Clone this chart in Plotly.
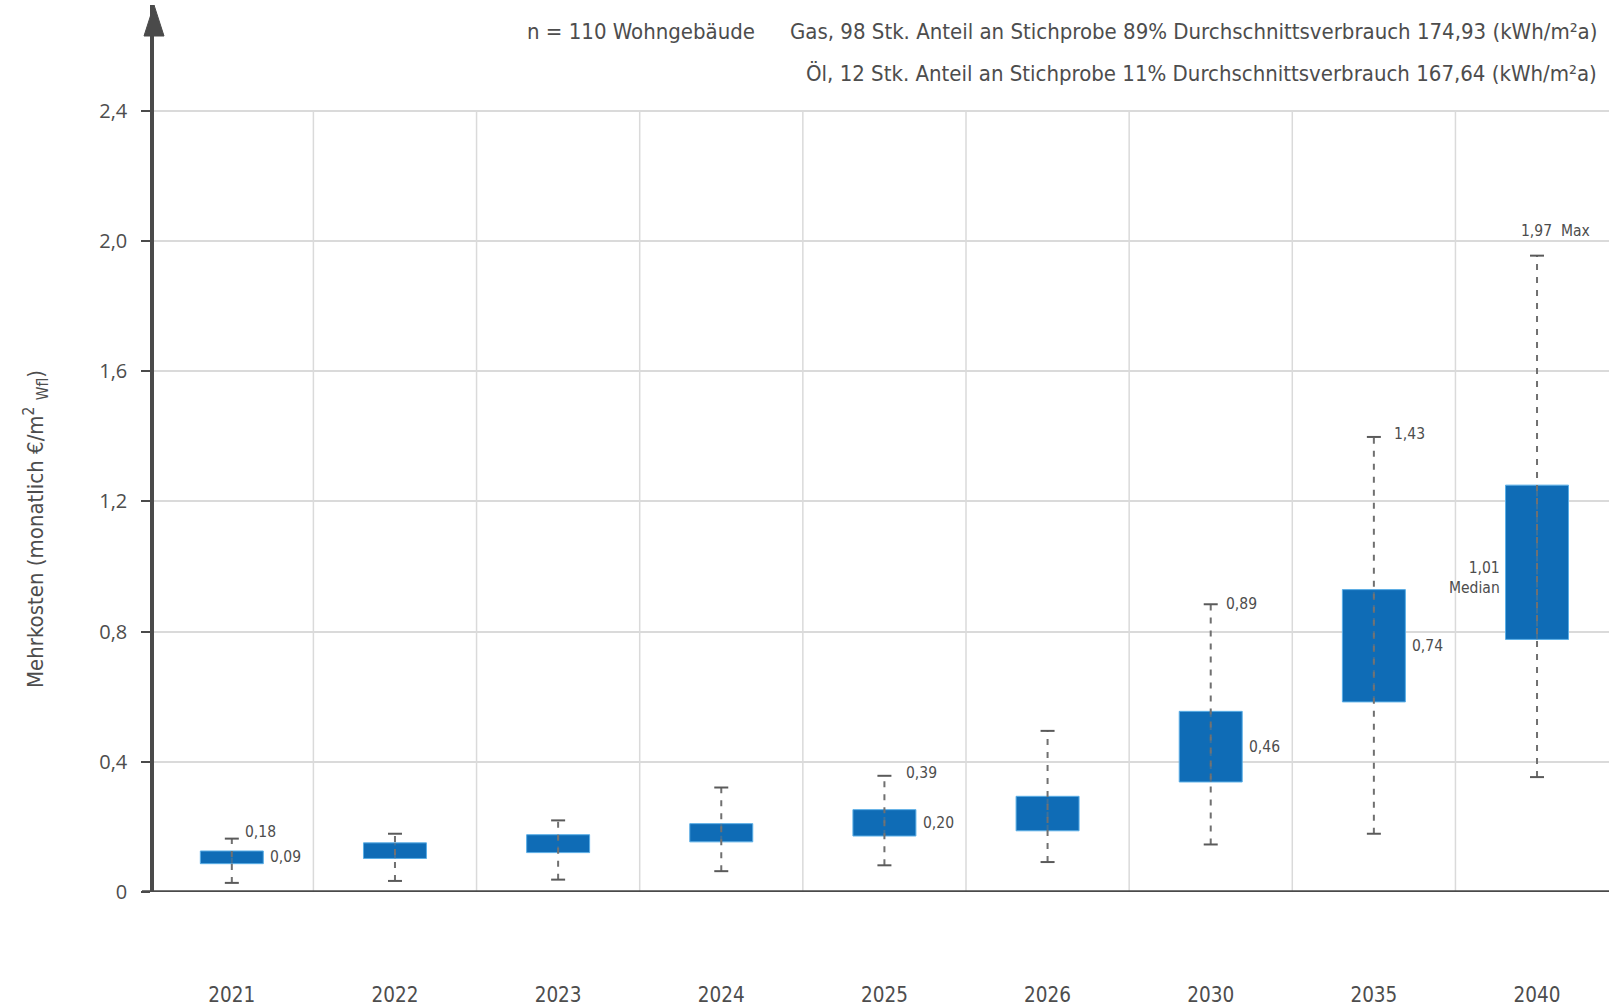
import plotly.graph_objects as go

# ---------------- data ----------------
years = ["2021", "2022", "2023", "2024", "2025", "2026", "2030", "2035", "2040"]
q1 = [0.087, 0.103, 0.121, 0.154, 0.172, 0.188, 0.338, 0.584, 0.776]
q3 = [0.126, 0.151, 0.176, 0.210, 0.253, 0.294, 0.555, 0.929, 1.250]
median = [0.09, 0.13, 0.15, 0.18, 0.20, 0.24, 0.46, 0.74, 1.01]
wmin = [0.028, 0.034, 0.038, 0.064, 0.082, 0.092, 0.146, 0.179, 0.353]
wmax = [0.164, 0.179, 0.220, 0.321, 0.357, 0.495, 0.884, 1.398, 1.955]

y_ticks = [0, 0.4, 0.8, 1.2, 1.6, 2.0, 2.4]
y_tick_text = ["0", "0,4", "0,8", "1,2", "1,6", "2,0", "2,4"]

max_label_text = ["0,18", "", "", "", "0,39", "", "0,89", "1,43", "1,97  Max"]
median_label_text = ["0,09", "", "", "", "0,20", "", "0,46", "0,74", "1,01<br>Median"]

header_left = "n = 110 Wohngebäude"
header_gas = "Gas, 98 Stk. Anteil an Stichprobe 89% Durchschnittsverbrauch 174,93 (kWh/m²a)"
header_oel = "Öl, 12 Stk. Anteil an Stichprobe 11% Durchschnittsverbrauch 167,64 (kWh/m²a)"
y_title = "Mehrkosten (monatlich €/m<sup>2</sup> <sub>Wfl</sub>)"

# ---------------- layout geometry ----------------
W, H = 1609, 1007
ML, MR, MT, MB = 154, 0, 5, 115
PW, PH = W - ML - MR, H - MT - MB
X_RANGE = [-0.477, -0.477 + PW / 163.15]
Y_RANGE = [0, PH / 325.5]

NARROW = "DejaVu Sans Condensed, DejaVu Sans, sans-serif"
AXIS_COL = "#4a4a4a"
TEXT_COL = "#4d4d4d"
GRID_COL = "#dadada"
BOX_COL = "#0f6cb6"
BOX_W = 0.386
LBL = 15.5


def px_x(px):
    return (px - ML) / PW


def px_y(py):
    return (H - MB - py) / PH


xs = list(range(len(years)))

fig = go.Figure()

# whiskers (dashed), drawn below boxes
wx, wy = [], []
for i in xs:
    wx += [i, i, None]
    wy += [wmin[i], wmax[i], None]
fig.add_trace(go.Scatter(x=wx, y=wy, mode="lines",
                         line=dict(color="#707070", width=2, dash="6px,7px"),
                         hoverinfo="skip", showlegend=False))

# boxes
fig.add_trace(go.Bar(x=xs, y=[q3[i] - q1[i] for i in xs], base=q1, width=BOX_W,
                     marker=dict(color=BOX_COL, line=dict(color="#5aaee6", width=1)),
                     showlegend=False, hoverinfo="skip"))

# faint whisker through the box
ix, iy = [], []
for i in xs:
    ix += [i, i, None]
    iy += [q1[i], q3[i], None]
fig.add_trace(go.Scatter(x=ix, y=iy, mode="lines",
                         line=dict(color="rgba(120,120,120,0.45)", width=2, dash="6px,7px"),
                         hoverinfo="skip", showlegend=False))

# caps
fig.add_trace(go.Scatter(x=xs + xs, y=wmax + wmin, mode="markers",
                         marker=dict(symbol="line-ew", size=10,
                                     line=dict(color="#5a5a5a", width=2)),
                         hoverinfo="skip", showlegend=False))

annotations = []
# max labels
max_shift = {0: (11, 7), 4: (20, 3), 6: (13, 0), 7: (18, 3)}
for i in xs:
    t = max_label_text[i]
    if not t:
        continue
    if i == 8:
        annotations.append(dict(x=i, y=wmax[i], text=t, showarrow=False, xanchor="center",
                                yanchor="middle", xshift=18, yshift=25,
                                font=dict(family=NARROW, size=LBL, color=TEXT_COL)))
    else:
        dx, dy = max_shift[i]
        annotations.append(dict(x=i, y=wmax[i], text=t, showarrow=False, xanchor="left",
                                yanchor="middle", xshift=dx, yshift=dy,
                                font=dict(family=NARROW, size=LBL, color=TEXT_COL)))
# median labels
for i in xs:
    t = median_label_text[i]
    if not t:
        continue
    if i == 8:
        annotations.append(dict(x=i - BOX_W / 2, y=median[i], text=t, showarrow=False,
                                xanchor="right", yanchor="middle", xshift=-4, yshift=-15,
                                align="right",
                                font=dict(family=NARROW, size=LBL, color=TEXT_COL)))
    else:
        annotations.append(dict(x=i + BOX_W / 2, y=(q1[i] + q3[i]) / 2, text=t, showarrow=False,
                                xanchor="left", yanchor="middle", xshift=5,
                                font=dict(family=NARROW, size=LBL, color=TEXT_COL)))

# header
annotations.append(dict(xref="paper", yref="paper", x=px_x(525), y=px_y(32), text=header_left,
                        showarrow=False, xanchor="left", yanchor="middle",
                        font=dict(family=NARROW, size=22, color=TEXT_COL)))
annotations.append(dict(xref="paper", yref="paper", x=px_x(1599), y=px_y(32), text=header_gas,
                        showarrow=False, xanchor="right", yanchor="middle",
                        font=dict(family=NARROW, size=22, color=TEXT_COL)))
annotations.append(dict(xref="paper", yref="paper", x=px_x(1599), y=px_y(73), text=header_oel,
                        showarrow=False, xanchor="right", yanchor="middle",
                        font=dict(family=NARROW, size=22, color=TEXT_COL)))
# y title
annotations.append(dict(xref="paper", yref="paper", x=px_x(36), y=px_y(529), text=y_title,
                        showarrow=False, textangle=-90, xanchor="center", yanchor="middle",
                        font=dict(family=NARROW, size=22, color=TEXT_COL)))

shapes = []
# vertical grid lines between categories
for i in xs[:-1]:
    shapes.append(dict(type="line", xref="x", yref="y", x0=i + 0.5, x1=i + 0.5,
                       y0=0, y1=y_ticks[-1], line=dict(color=GRID_COL, width=1.5), layer="below"))
# x axis line
shapes.append(dict(type="line", xref="paper", yref="y", x0=px_x(142), x1=1, y0=0, y1=0,
                   line=dict(color=AXIS_COL, width=3.5)))
# arrow head on y axis
ty0, ty1 = px_y(5), px_y(36)
shapes.append(dict(type="path", xref="paper", yref="paper",
                   path=f"M {px_x(154)},{ty0} L {px_x(144)},{ty1} L {px_x(164)},{ty1} Z",
                   fillcolor=AXIS_COL, line=dict(color=AXIS_COL, width=1)))

fig.update_layout(
    width=W, height=H, autosize=False,
    margin=dict(l=ML, r=MR, t=MT, b=MB, pad=0, autoexpand=False),
    paper_bgcolor="white", plot_bgcolor="white",
    showlegend=False, barmode="overlay",
    annotations=annotations, shapes=shapes,
    xaxis=dict(range=X_RANGE, tickvals=xs, ticktext=years, showgrid=False, zeroline=False,
               showline=False, ticks="", ticklabelstandoff=88, automargin=False,
               tickfont=dict(family=NARROW, size=20.5, color=TEXT_COL), fixedrange=True),
    yaxis=dict(range=Y_RANGE, tickvals=y_ticks, ticktext=y_tick_text, showgrid=True,
               gridcolor=GRID_COL, gridwidth=1.5, zeroline=False, automargin=False,
               showline=True, linecolor=AXIS_COL, linewidth=3.5,
               ticks="outside", ticklen=9, tickwidth=2, tickcolor=AXIS_COL,
               ticklabelstandoff=10,
               tickfont=dict(family="Open Sans, sans-serif", size=20, color=TEXT_COL),
               fixedrange=True),
)

fig.write_html("out.html", config={"displayModeBar": False},
               post_script="document.body.style.margin='0';")
